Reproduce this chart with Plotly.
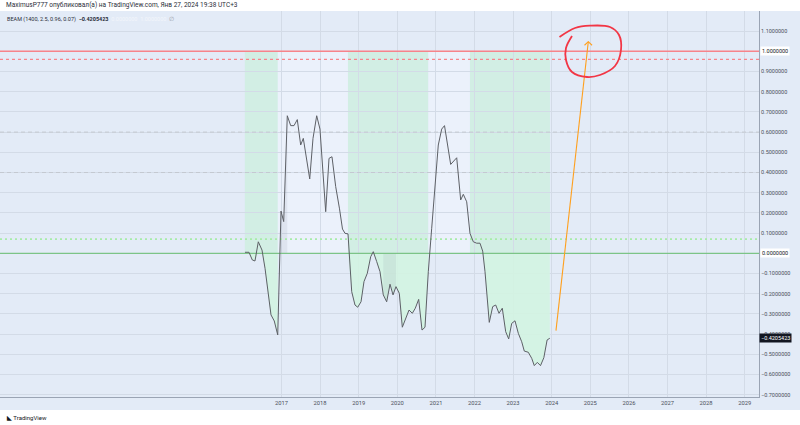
import numpy as np
import plotly.graph_objects as go

# ---------------- data ----------------
years = [2016.054, 2016.158, 2016.244, 2016.313, 2016.399, 2016.495, 2016.573, 2016.658, 2016.728, 2016.813,
         2016.902, 2016.987, 2017.057, 2017.150, 2017.238, 2017.324, 2017.409, 2017.497, 2017.565, 2017.731,
         2017.816, 2017.912, 2017.997, 2018.145, 2018.231, 2018.308, 2018.404, 2018.503, 2018.580, 2018.645,
         2018.723, 2018.819, 2018.904, 2018.974, 2019.060, 2019.137, 2019.223, 2019.311, 2019.378, 2019.466,
         2019.552, 2019.637, 2019.725, 2019.811, 2019.889, 2019.966, 2020.052, 2020.130, 2020.218, 2020.303,
         2020.389, 2020.466, 2020.554, 2020.640, 2020.718, 2020.803, 2020.891, 2020.977, 2021.062, 2021.150,
         2021.223, 2021.383, 2021.539, 2021.642, 2021.710, 2021.798, 2021.883, 2021.969, 2022.057, 2022.142,
         2022.212, 2022.272, 2022.383, 2022.471, 2022.549, 2022.635, 2022.720, 2022.808, 2022.886, 2022.964,
         2023.049, 2023.135, 2023.223, 2023.290, 2023.394, 2023.482, 2023.549, 2023.627, 2023.710, 2023.796,
         2023.881, 2023.951]
beam = [0.005, 0.005, -0.033, -0.038, 0.057, 0.016, -0.074, -0.215, -0.305, -0.335,
        -0.404, 0.209, 0.157, 0.681, 0.632, 0.632, 0.662, 0.536, 0.569, 0.368,
        0.569, 0.681, 0.615, 0.206, 0.470, 0.478, 0.330, 0.220, 0.120, 0.099,
        0.096, -0.190, -0.256, -0.267, -0.240, -0.140, -0.099, -0.017, 0.008, -0.041,
        -0.091, -0.206, -0.240, -0.153, -0.206, -0.165, -0.198, -0.366, -0.322, -0.281,
        -0.297, -0.272, -0.228, -0.380, -0.366, -0.091, 0.124, 0.322, 0.536, 0.615,
        0.632, 0.440, 0.473, 0.264, 0.292, 0.255, 0.099, 0.057, 0.050, 0.050,
        0.011, -0.091, -0.342, -0.264, -0.256, -0.297, -0.272, -0.388, -0.424, -0.347,
        -0.334, -0.396, -0.438, -0.484, -0.490, -0.520, -0.556, -0.540, -0.556, -0.517,
        -0.429, -0.4205423]
last_value = -0.4205423

green_periods = [(2016.05, 2016.905), (2018.72, 2020.805), (2021.88, 2023.955)]
light_periods = [(2016.905, 2018.72), (2020.805, 2021.88)]
gray_windows = [(2016.95, 2017.16), (2019.63, 2019.98)]

upper_level, upper_dash_level = 1.0, 0.96
mid_levels = [0.6, 0.4]
lower_dot_level, zero_level = 0.07, 0.0

x_ticks = [2017, 2018, 2019, 2020, 2021, 2022, 2023, 2024, 2025, 2026, 2027, 2028, 2029]
x_ticklabels = ["2017", "2018", "2019", "2020", "2021", "2022", "2023", "2024", "2025", "2026", "2027", "2028", "2029"]
y_ticks = [1.1, 1.0, 0.9, 0.8, 0.7, 0.6, 0.5, 0.4, 0.3, 0.2, 0.1, 0.0, -0.1, -0.2, -0.3, -0.4, -0.5, -0.6, -0.7]
y_ticklabels = ["1.1000000", "1.0000000", "0.9000000", "0.8000000", "0.7000000", "0.6000000", "0.5000000",
                "0.4000000", "0.3000000", "0.2000000", "0.1000000", "0.0000000", "−0.1000000", "−0.2000000",
                "−0.3000000", "−0.4000000", "−0.5000000", "−0.6000000", "−0.7000000"]

# hand-drawn annotations (author's drawings on the chart)
arrow_x = [2024.111, 2024.948]
arrow_y = [-0.383, 1.0475]
chevron_x = [2024.850, 2024.948, 2025.045]
chevron_y = [1.030, 1.0475, 1.030]
circle_x = [2024.202, 2024.604, 2024.992, 2025.510, 2025.744, 2025.795, 2025.640, 2025.251, 2024.915,
            2024.526, 2024.370, 2024.370, 2024.526]
circle_y = [1.0708, 1.1153, 1.1267, 1.1203, 1.0807, 1.0064, 0.9272, 0.8827, 0.8728,
            0.8975, 0.9569, 1.0163, 1.0757]

# ---------------- styling ----------------
BG = "#e3ebf7"
GRID = "#d3dbe7"
FONT = "Roboto"
W, H = 800, 425
ML, MR, MT, MB = 0, 41, 11, 28
PW, PH = W - ML - MR, H - MT - MB
ZERO_PX, UNIT_PX = 253.3, 202.0

x = np.array(years)
v = np.array(beam)

x_range = [2017 - 281.5 / 38.6, 2017 + (PW - 281.5) / 38.6]
y_range = [-(MT + PH - ZERO_PX) / UNIT_PX, (ZERO_PX - MT) / UNIT_PX]

fig = go.Figure()

# fills between line and zero in the green periods (below zero)
for a, b in green_periods:
    m = (x >= a) & (x <= b)
    fig.add_trace(go.Scatter(x=x[m], y=np.minimum(v[m], 0), mode="none", fill="tozeroy",
                             fillcolor="rgba(210,243,226,0.92)", hoverinfo="skip", showlegend=False))
for a, b in gray_windows:
    m = (x >= a) & (x <= b)
    fig.add_trace(go.Scatter(x=x[m], y=v[m], mode="none", fill="tozeroy",
                             fillcolor="rgba(140,150,160,0.13)", hoverinfo="skip", showlegend=False))


def hline(level, color, width, dash):
    fig.add_trace(go.Scatter(x=x_range, y=[level, level], mode="lines",
                             line=dict(color=color, width=width, dash=dash),
                             hoverinfo="skip", showlegend=False))


hline(upper_level, "#f7838a", 1.5, "solid")
hline(upper_dash_level, "#f7838a", 1.2, "3px,3px")
for lv in mid_levels:
    hline(lv, "#c4c9d1", 1, "4px,3px")
hline(lower_dot_level, "#a8eca9", 1.8, "2px,3px")
hline(zero_level, "#7cc487", 1.3, "solid")

# main line
fig.add_trace(go.Scatter(x=years, y=beam, mode="lines", line=dict(color="#5d6066", width=1),
                         hoverinfo="skip", showlegend=False))

# drawings
fig.add_trace(go.Scatter(x=arrow_x, y=arrow_y, mode="lines", line=dict(color="#ff9f1c", width=1.1),
                         hoverinfo="skip", showlegend=False))
fig.add_trace(go.Scatter(x=chevron_x, y=chevron_y, mode="lines", line=dict(color="#ff9f1c", width=1.1),
                         hoverinfo="skip", showlegend=False))
fig.add_trace(go.Scatter(x=circle_x, y=circle_y, mode="lines", line=dict(color="#f23645", width=1.8, shape="spline"),
                         hoverinfo="skip", showlegend=False))

shapes = []
# period bands between 0 and 1
for a, b in green_periods:
    shapes.append(dict(type="rect", xref="x", yref="y", x0=a, x1=b, y0=zero_level, y1=upper_level,
                       fillcolor="#d2eee4", line=dict(width=0), layer="below"))
for a, b in light_periods:
    shapes.append(dict(type="rect", xref="x", yref="y", x0=a, x1=b, y0=zero_level, y1=upper_level,
                       fillcolor="#ebf1fb", line=dict(width=0), layer="below"))
# axis bands (outside plot area)
shapes.append(dict(type="rect", xref="paper", yref="paper", x0=0, x1=1 + MR / PW, y0=-13 / PH, y1=0,
                   fillcolor=BG, line=dict(width=0), layer="below"))
shapes.append(dict(type="rect", xref="paper", yref="paper", x0=1, x1=1 + MR / PW, y0=-13 / PH, y1=1,
                   fillcolor=BG, line=dict(width=0), layer="below"))

annotations = [
    dict(xref="paper", yref="paper", x=0, y=1, xanchor="left", yanchor="bottom", xshift=4, yshift=0,
         text="MaximusP777 опубликовал(а) на TradingView.com, Янв 27, 2024 19:38 UTC+3",
         showarrow=False, font=dict(family=FONT, size=6.5, color="#2a2e39")),
    dict(xref="paper", yref="paper", x=0, y=1, xanchor="left", yanchor="top", xshift=5, yshift=-3,
         text="BEAM (1400, 2.5, 0.96, 0.07)  <b>−0.4205423</b>  <span style='color:#f3f6fb'>0.0000000  1.0000000</span>"
              "  <span style='color:#9aa0aa'>∅</span>",
         showarrow=False, font=dict(family=FONT, size=5.5, color="#2a2e39")),
    dict(xref="paper", yref="y", x=1, y=upper_level, xanchor="left", yanchor="middle", xshift=1,
         text="1.0000000", showarrow=False, bgcolor="#ffffff", borderpad=1,
         font=dict(family=FONT, size=5.5, color="#131722")),
    dict(xref="paper", yref="y", x=1, y=zero_level, xanchor="left", yanchor="middle", xshift=1,
         text="0.0000000", showarrow=False, bgcolor="#ffffff", borderpad=1,
         font=dict(family=FONT, size=5.5, color="#131722")),
    dict(xref="paper", yref="y", x=1, y=last_value, xanchor="left", yanchor="middle", xshift=0,
         text="−0.4205423", showarrow=False, bgcolor="#131722", borderpad=1,
         font=dict(family=FONT, size=5.5, color="#ffffff")),
    dict(xref="paper", yref="paper", x=0, y=0, xanchor="left", yanchor="middle", xshift=4, yshift=-20,
         text="<b>◣</b> TradingView", showarrow=False, font=dict(family=FONT, size=6, color="#131722")),
]

fig.update_layout(
    width=W, height=H, margin=dict(l=ML, r=MR, t=MT, b=MB),
    paper_bgcolor="#ffffff", plot_bgcolor=BG,
    shapes=shapes, annotations=annotations, showlegend=False,
    font=dict(family=FONT),
    xaxis=dict(range=x_range, tickmode="array", tickvals=x_ticks, ticktext=x_ticklabels,
               showgrid=True, gridcolor=GRID, gridwidth=1, zeroline=False, showline=True,
               linecolor="#9aa4b4", linewidth=1, ticks="", tickfont=dict(size=5.8, color="#4a4f5a"),
               fixedrange=True),
    yaxis=dict(range=y_range, side="right", tickmode="array", tickvals=y_ticks, ticktext=y_ticklabels,
               showgrid=True, gridcolor=GRID, gridwidth=1, zeroline=False, showline=True,
               linecolor="#9aa4b4", linewidth=1, ticks="", tickfont=dict(size=5.5, color="#4a4f5a"),
               fixedrange=True),
)

fig.write_html("out.html")
